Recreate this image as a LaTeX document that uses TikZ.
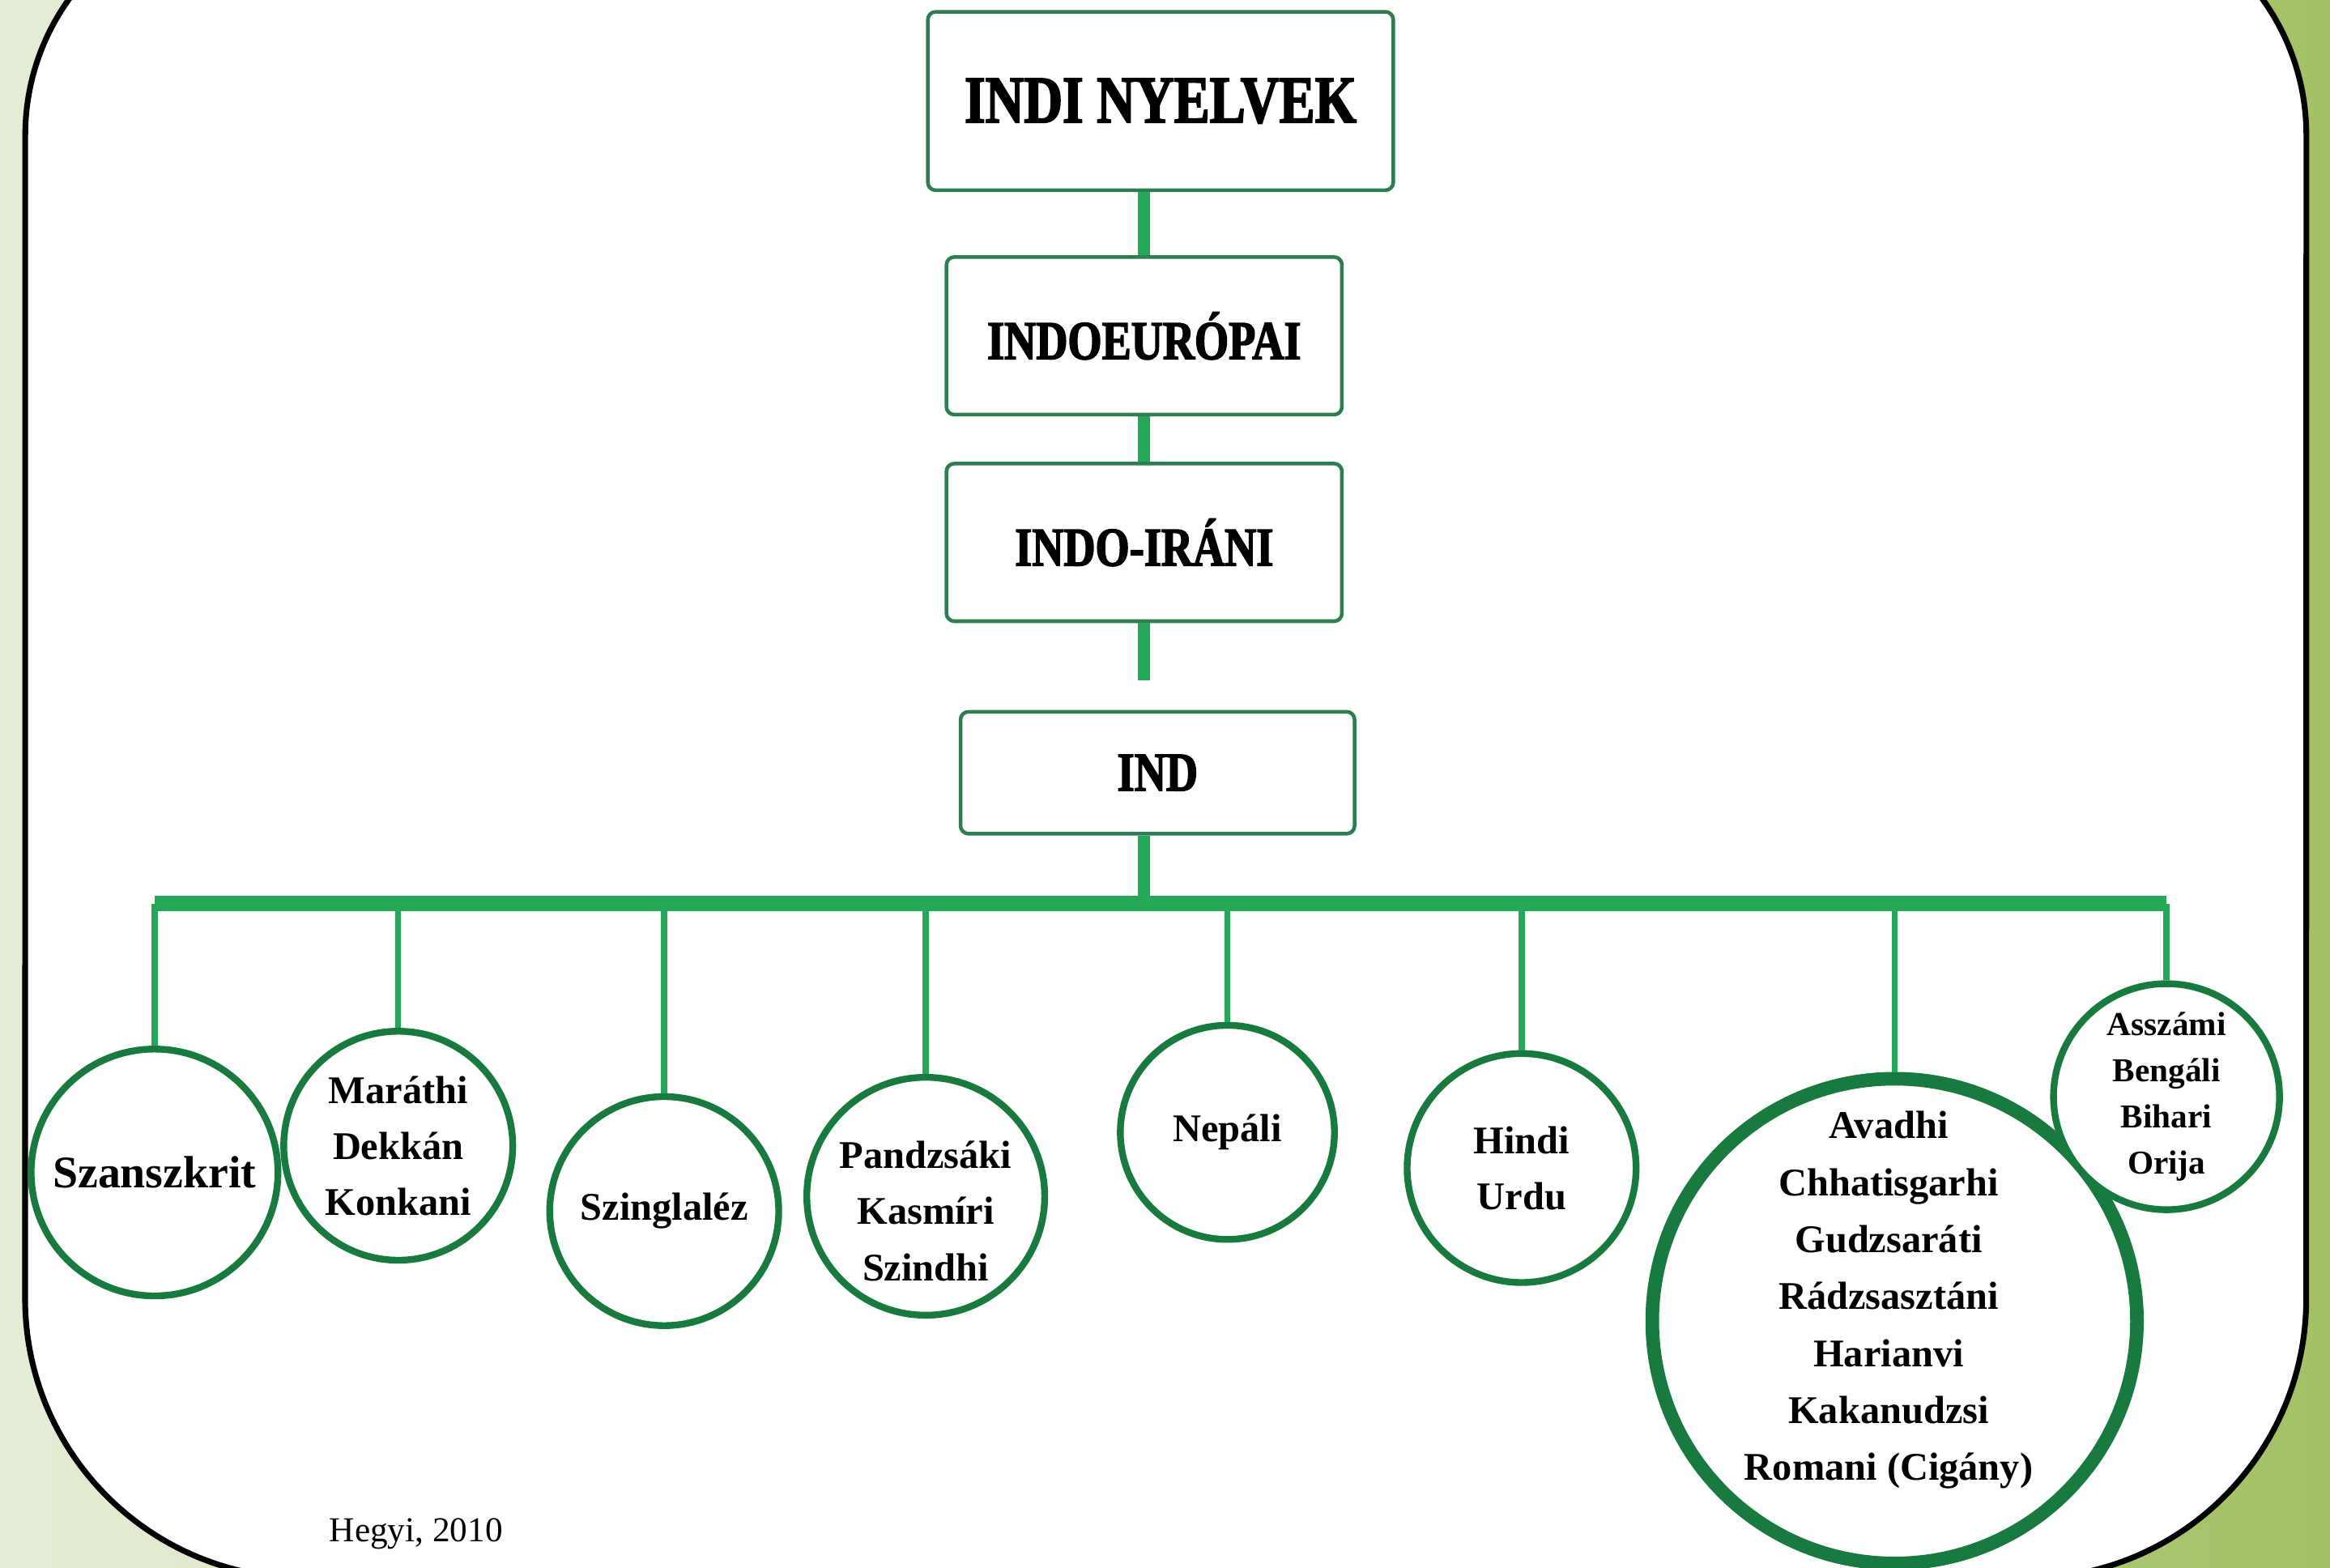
\documentclass[tikz,border=0pt]{standalone}
\usepackage{fontspec}
\setmainfont{Liberation Serif}
\newfontfamily\headfont{Liberation Serif}[FakeStretch=0.8,BoldFeatures={FakeBold=2.2}]
\usepackage{tikz}
\definecolor{bgLight}{RGB}{228,237,214}
\definecolor{bgOlive}{RGB}{163,193,101}
\definecolor{boxGreen}{RGB}{45,125,80}
\definecolor{lineGreen}{RGB}{36,168,88}
\definecolor{circGreen}{RGB}{24,122,62}

\begin{document}
\begin{tikzpicture}[x=0.01cm,y=-0.01cm,
  box/.style={rectangle,draw=boxGreen,line width=0.7pt,rounded corners=1.5pt,fill=white,
    font=\headfont\bfseries\fontsize{10.5}{12}\selectfont,minimum width=2.66cm,minimum height=1.06cm},
  lang/.style={circle,draw=circGreen,line width=1.3pt,fill=white,inner sep=0pt,align=center,
    font=\bfseries\fontsize{7.5}{10.7}\selectfont},
  langtext/.style={align=center,inner sep=0pt,font=\bfseries\fontsize{7.5}{10.8}\selectfont},
  trunk/.style={lineGreen,line width=2.3pt},
  drop/.style={lineGreen,line width=1.15pt}]
\useasboundingbox (0,0) rectangle (1568,1055);
\shade[left color=bgLight,right color=bgOlive] (0,0) rectangle (1568,1055);
\draw[line width=1.1pt,fill=white] (17,91) arc[start angle=180,end angle=90,radius=1.57cm]
  -- (1395,-66) arc[start angle=90,end angle=0,radius=1.57cm]
  -- (1552,874) arc[start angle=0,end angle=-90,radius=1.88cm]
  -- (205,1062) arc[start angle=270,end angle=180,radius=1.88cm] -- cycle;

\node[box,minimum width=3.13cm,minimum height=1.2cm,font=\headfont\bfseries\fontsize{12.8}{14}\selectfont] (indi) at (781,68) {INDI NYELVEK};
\node[box] (indoeur) at (770,226) {INDOEURÓPAI};
\node[box] (indoiran) at (770,365) {INDO-IRÁNI};
\node[box,minimum width=2.65cm,minimum height=0.82cm] (ind) at (779,520) {IND\hspace{0.09cm}};
\coordinate (gap) at (770,458);
\coordinate (busL) at (104,608);
\coordinate (busR) at (1458,608);

\node[lang,minimum size=1.66cm,font=\bfseries\fontsize{8.65}{10}\selectfont] (szanszkrit) at (104,789) {Szanszkrit};
\node[lang,minimum size=1.54cm] (marathi) at (268,771) {Maráthi\\Dekkán\\Konkani};
\node[lang,minimum size=1.54cm] (szinglalez) at (447,815) {Szinglaléz};
\node[lang,minimum size=1.6cm] (pandzsaki) at (623,805) {};
\node[langtext] at (623,815) {Pandzsáki\\Kasmíri\\Szindhi};
\node[lang,minimum size=1.44cm] (nepali) at (826,762) {Nepáli};
\node[lang,minimum size=1.54cm] (hindi) at (1024,786) {Hindi\\Urdu};
\node[lang,minimum size=3.26cm,line width=2.6pt] (avadhi) at (1275,889) {};
\node[langtext,font=\bfseries\fontsize{7.5}{10.9}\selectfont] at (1271,875)
  {Avadhi\\Chhatisgarhi\\Gudzsaráti\\Rádzsasztáni\\Harianvi\\Kakanudzsi\\Romani (Cigány)};
\node[lang,minimum size=1.52cm,font=\bfseries\fontsize{6.4}{8.8}\selectfont] (asszami) at (1458,738) {Asszámi\\Bengáli\\Bihari\\Orija};
\node (forras) at (280,1032) {\fontsize{6.7}{8}\selectfont Hegyi, 2010};

\draw[trunk] (indi.south -| indoeur.north) -- (indoeur.north);
\draw[trunk] (indoeur.south) -- (indoiran.north);
\draw[trunk] (indoiran.south) -- (gap);
\draw[trunk] (gap |- ind.south) -- (gap |- busL);
\draw[lineGreen,line width=3pt] (busL) -- (busR);
\foreach \n in {szanszkrit,marathi,szinglalez,pandzsaki,nepali,hindi,avadhi,asszami}
  \draw[drop] (\n.north |- busL) -- (\n.north);
\end{tikzpicture}
\end{document}
